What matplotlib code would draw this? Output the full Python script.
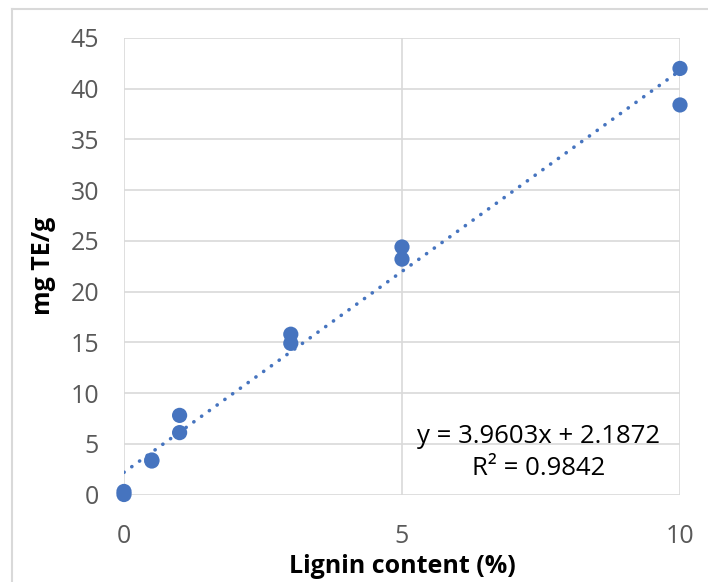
import numpy as np
import matplotlib
matplotlib.use("Agg")
import matplotlib.pyplot as plt
from matplotlib.lines import Line2D

# lignin content (%) vs antioxidant capacity (mg TE/g), duplicates per level
lignin = [0, 0, 0.5, 0.5, 1, 1, 3, 3, 5, 5, 10, 10]
mg_te = [0.0, 0.3, 3.3, 3.4, 7.8, 6.1, 15.8, 14.9, 24.4, 23.2, 42.0, 38.4]

# linear trendline reported for the series
slope = 3.9603
intercept = 2.1872
r2 = 0.9842

x_ticks = [0, 5, 10]
y_ticks = list(range(0, 50, 5))

blue = "#4674bf"
grey_text = "#595959"
grid_col = "#d9d9d9"

plt.rcParams['font.family'] = ['Open Sans', 'DejaVu Sans']

fig = plt.figure(figsize=(7.08, 5.82), dpi=100)
ax = fig.add_axes([124 / 708, 1 - 494.5 / 582, (680 - 124) / 708, (494.5 - 38) / 582])

# outer chart frame (only left and top edges fall inside the image)
fx, fy = 12 / 708, 1 - 9 / 582
fig.lines.append(Line2D([fx, fx], [0, fy], transform=fig.transFigure,
                        color="#d9d9d9", linewidth=1.5))
fig.lines.append(Line2D([fx, 1], [fy, fy], transform=fig.transFigure,
                        color="#d9d9d9", linewidth=1.5))

x_line = np.array([0, 10])
ax.plot(x_line, slope * x_line + intercept, linestyle=(0, (0.05, 2.6)),
        color=blue, linewidth=2.6, dash_capstyle='round', zorder=2)
ax.scatter(lignin, mg_te, s=120, color=blue, zorder=3, edgecolors='none',
           clip_on=False)

ax.set_xlim(0, 10)
ax.set_ylim(0, 45)
ax.set_xticks(x_ticks)
ax.set_yticks(y_ticks)
ax.grid(True, color=grid_col, linewidth=1.2)
ax.set_axisbelow(True)
for s in ax.spines.values():
    s.set_visible(False)
ax.tick_params(length=0, labelsize=18, colors=grey_text)
ax.tick_params(axis='y', pad=18)
ax.tick_params(axis='x', pad=21)

ax.set_xlabel("Lignin content (%)", fontsize=18, fontweight='bold', labelpad=4)
ax.set_ylabel("mg TE/g", fontsize=18, fontweight='bold', labelpad=10)

ax.text(7.45, 5.7, f"y = {slope}x + {intercept}", fontsize=18.5, ha='center', va='center')
ax.text(7.45, 2.6, f"R² = {r2}", fontsize=18.5, ha='center', va='center')

fig.savefig("out.png", dpi=100)
